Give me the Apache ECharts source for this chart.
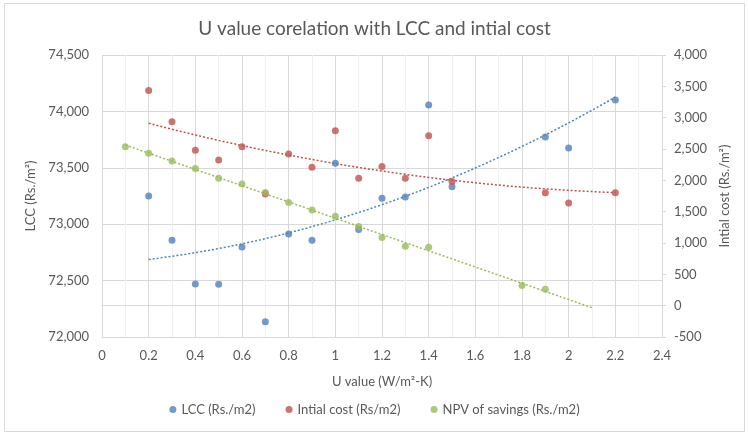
<!DOCTYPE html>
<html>
<head>
<meta charset="utf-8">
<script src="https://cdn.jsdelivr.net/npm/echarts@6/dist/echarts.min.js"></script>
<style>
html,body{margin:0;padding:0;background:#fff}
#chart{width:749px;height:436px}
</style>
</head>
<body>
<div id="chart"></div>
<script>
// U value (W/m2-K) for LCC and initial cost points
var uValues = [0.2, 0.3, 0.4, 0.5, 0.6, 0.7, 0.8, 0.9, 1.0, 1.1, 1.2, 1.3, 1.4, 1.5, 1.9, 2.0, 2.2];
var lcc = [73250, 72857, 72470, 72467, 72798, 72136, 72913, 72857, 73540, 72953, 73230, 73241, 74057, 73333, 73773, 73676, 74101];
var initialCost = [3432, 2933, 2479, 2325, 2537, 1781, 2421, 2209, 2790, 2035, 2219, 2035, 2711, 1981, 1802, 1638, 1802];
// NPV of savings has its own U values
var npvU = [0.1, 0.2, 0.3, 0.4, 0.5, 0.6, 0.7, 0.8, 0.9, 1.0, 1.1, 1.2, 1.3, 1.4, 1.8, 1.9];
var npv = [2537, 2432, 2310, 2188, 2035, 1940, 1807, 1648, 1527, 1426, 1262, 1087, 949, 933, 321, 262];

var legendNames = ['LCC (Rs./m2)', 'Intial cost (Rs/m2)', 'NPV of savings (Rs./m2)'];
var colors = ['#4F81BD', '#C0504D', '#9BBB59'];
var txt = '#595959';
var font = 'Lato';

// least squares polynomial (like excel trendline)
function polyfit(xs, ys, deg) {
  var n = deg + 1, A = [], i, j, k;
  for (i = 0; i < n; i++) {
    A.push([]);
    for (j = 0; j <= n; j++) A[i].push(0);
  }
  for (k = 0; k < xs.length; k++) {
    for (i = 0; i < n; i++) {
      for (j = 0; j < n; j++) A[i][j] += Math.pow(xs[k], i + j);
      A[i][n] += ys[k] * Math.pow(xs[k], i);
    }
  }
  for (i = 0; i < n; i++) {
    for (k = i + 1; k < n; k++) {
      var f = A[k][i] / A[i][i];
      for (j = i; j <= n; j++) A[k][j] -= f * A[i][j];
    }
  }
  var c = new Array(n);
  for (i = n - 1; i >= 0; i--) {
    var s = A[i][n];
    for (j = i + 1; j < n; j++) s -= A[i][j] * c[j];
    c[i] = s / A[i][i];
  }
  return c;
}
function trend(xs, ys, deg, forward) {
  var c = polyfit(xs, ys, deg);
  var x0 = xs[0], x1 = xs[xs.length - 1] + (forward || 0), out = [];
  for (var x = x0; x <= x1 + 1e-9; x += 0.02) {
    var y = 0;
    for (var i = 0; i < c.length; i++) y += c[i] * Math.pow(x, i);
    out.push([x, y]);
  }
  return out;
}
function pairs(xs, ys) {
  return xs.map(function (x, i) { return [x, ys[i]]; });
}

function scatter(name, xs, ys, idx, axis) {
  return {
    name: name, type: 'scatter', yAxisIndex: axis,
    symbolSize: 7, z: 3,
    itemStyle: { color: colors[idx] },
    data: pairs(xs, ys)
  };
}
function trendLine(data, idx, axis) {
  return {
    type: 'line', yAxisIndex: axis, showSymbol: false, silent: true, z: 2,
    lineStyle: { color: colors[idx], width: 1.5, type: [2, 2] },
    data: data
  };
}

var myChart = echarts.init(document.getElementById('chart'));
var option = {
  animation: false,
  textStyle: { fontFamily: font },
  title: {
    text: 'U value corelation with LCC and intial cost',
    left: 'center', top: 14,
    textStyle: { color: txt, fontSize: 19, fontWeight: 'normal', fontFamily: font }
  },
  legend: {
    data: legendNames, bottom: 15, left: 'center',
    icon: 'circle', itemWidth: 7, itemHeight: 7, itemGap: 30,
    textStyle: { color: txt, fontSize: 13, fontFamily: font }
  },
  grid: { left: 102, right: 87, top: 55, bottom: 99 },
  xAxis: {
    type: 'value', min: 0, max: 2.4, interval: 0.2,
    name: 'U value (W/m²-K)', nameLocation: 'middle', nameGap: 38,
    nameTextStyle: { color: txt, fontSize: 13 },
    axisLine: { show: true, lineStyle: { color: '#D9D9D9' } },
    axisTick: { show: false },
    axisLabel: { color: txt, fontSize: 13, margin: 12 },
    splitLine: { show: true, lineStyle: { color: '#D9D9D9' } },
    minorTick: { show: false, splitNumber: 2 },
    minorSplitLine: { show: true, lineStyle: { color: '#F0F0F0' } }
  },
  yAxis: [{
    type: 'value', min: 72000, max: 74500, interval: 500,
    name: 'LCC (Rs./m²)', nameLocation: 'middle', nameGap: 63, nameRotate: 90,
    nameTextStyle: { color: txt, fontSize: 13 },
    axisLine: { show: false }, axisTick: { show: false },
    axisLabel: { color: txt, fontSize: 13, margin: 13,
      formatter: function (v) { return v.toLocaleString('en-US'); } },
    splitLine: { show: true, lineStyle: { color: '#D9D9D9' } }
  }, {
    type: 'value', min: -500, max: 4000, interval: 500,
    name: 'Intial cost (Rs./m²)', nameLocation: 'middle', nameGap: 55, nameRotate: 90,
    nameTextStyle: { color: txt, fontSize: 13 },
    axisLine: { show: true, lineStyle: { color: '#D9D9D9' } },
    axisTick: { show: true, length: 4, lineStyle: { color: '#D9D9D9' } },
    axisLabel: { color: txt, fontSize: 13, margin: 12,
      formatter: function (v) { return v.toLocaleString('en-US'); } },
    splitLine: { show: false }
  }],
  graphic: [{
    type: 'rect', silent: true,
    shape: { x: 4.5, y: 3.5, width: 740, height: 428 },
    style: { fill: 'none', stroke: '#D9D9D9', lineWidth: 1 }
  }],
  series: [
    trendLine(trend(uValues, lcc, 2), 0, 0),
    trendLine(trend(uValues, initialCost, 2), 1, 1),
    trendLine(trend(npvU, npv, 1, 0.2), 2, 1),
    scatter(legendNames[0], uValues, lcc, 0, 0),
    scatter(legendNames[1], uValues, initialCost, 1, 1),
    scatter(legendNames[2], npvU, npv, 2, 1)
  ]
};
myChart.setOption(option);
</script>
</body>
</html>
